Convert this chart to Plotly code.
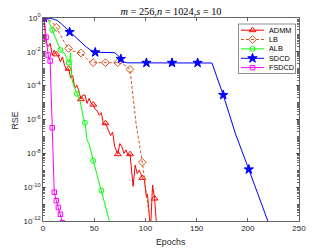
import plotly.graph_objects as go

# ---------------- data (values are log10(RSE)) ----------------
admm_epochs = [1, 3, 5, 7, 9, 11, 13, 15, 17, 19, 21, 23, 25, 27, 29, 31, 33, 35, 37, 39,
               41, 43, 45, 47, 49, 51, 53, 55, 57, 59, 61, 63, 65, 66, 68, 70, 73, 75, 77, 79,
               81, 83, 85, 86, 88, 90, 92, 94, 97, 99, 101, 102, 104, 105, 107, 109, 111]
admm_log = [0, -1.5, -1.7, -1.5, -2.2, -1.9, -2.15, -2.25, -2.6, -2.3,
            -2.8, -3.05, -3.0, -3.55, -3.4, -4.15, -3.96, -4.3, -4.8, -4.55,
            -4.56, -5.05, -4.75, -5.05, -5.12, -5.4, -5.5, -5.75, -5.6, -6.3,
            -6.22, -6.5, -6.8, -6.95, -6.75, -7.6, -8.05, -7.42, -7.6, -8.0,
            -7.8, -8.1, -8.05, -8.6, -9.95, -8.7, -9.2, -9.0, -9.45, -9.6,
            -10.6, -10.4, -11.7, -12.5, -9.88, -10.67, -12.4]
admm_marks = [1, 13, 25, 37, 49, 61, 73, 85, 97, 109]

lb_epochs = [1, 5, 9, 13, 17, 21, 25, 29, 33, 37, 41, 45, 49, 61, 73, 79, 85, 88, 91, 94, 97, 101, 105]
lb_log = [0, -0.08, -0.25, -0.55, -1.0, -1.45, -1.8, -1.95, -2.0, -2.07, -2.3, -2.55,
          -2.64, -2.64, -2.64, -2.75, -3.04, -4.7, -6.3, -7.4, -8.52, -10.4, -12.2]
lb_marks = [1, 13, 25, 37, 49, 61, 73, 85, 97]

alb_epochs = [1, 3, 5, 7, 9, 11, 13, 15, 17, 19, 21, 23, 25, 26, 27, 28, 29, 31, 33, 36,
              38, 39, 41, 42, 43, 45, 47, 49, 52, 55, 57, 60, 62, 64, 66]
alb_log = [0, -0.02, -0.1, -0.4, -0.71, -1.0, -1.3, -1.6, -1.89, -2.0,
           -2.1, -2.35, -2.64, -2.6, -2.05, -3.5, -3.8, -4.15, -4.48, -4.85,
           -5.44, -5.8, -6.19, -6.8, -7.2, -7.45, -7.95, -8.44, -9.2, -9.8,
           -10.2, -10.9, -11.26, -11.8, -12.3]
alb_marks = [1, 9, 17, 25, 33, 41, 49, 57]

sdcd_epochs = [1, 4, 7, 11, 14, 18, 22, 26, 30, 34, 38, 42, 46, 49, 51, 56, 61, 66, 70, 73,
               76, 79, 82, 101, 126, 151, 165, 176, 188, 201, 214, 222]
sdcd_log = [0, 0, -0.02, -0.08, -0.15, -0.35, -0.58, -0.83, -1.05, -1.25,
            -1.48, -1.7, -1.88, -2.0, -2.03, -2.03, -2.03, -2.03, -2.05, -2.2,
            -2.42, -2.6, -2.65, -2.65, -2.65, -2.65, -2.66, -4.55, -6.85, -8.95,
            -11.1, -12.4]
sdcd_marks = [1, 26, 51, 76, 101, 126, 151, 176, 201]

fsdcd_epochs = [1, 3, 5, 7, 9, 11, 13, 15, 17, 19]
fsdcd_log = [0, -1.14, -2.19, -2.54, -6.49, -10.3, -10.8, -11.2, -11.6, -12.1]
fsdcd_marks = [1, 3, 5, 7, 9, 11, 13, 15, 17, 19]

names = ["ADMM", "LB", "ALB", "SDCD", "FSDCD"]
x_ticks = [0, 50, 100, 150, 200, 250]
y_tick_exps = [0, -2, -4, -6, -8, -10, -12]

# ---------------- styles ----------------
styles = {
    "ADMM": dict(color="#FF0000", dash="solid", symbol="triangle-up-open", size=6),
    "LB": dict(color="#D95319", dash="3px,2px", symbol="diamond-open", size=6),
    "ALB": dict(color="#00FF00", dash="solid", symbol="circle-open", size=5),
    "SDCD": dict(color="#0000FF", dash="solid", symbol="star", size=7),
    "FSDCD": dict(color="#FF00FF", dash="solid", symbol="square-open", size=4.5),
}
series = {
    "ADMM": (admm_epochs, admm_log, admm_marks),
    "LB": (lb_epochs, lb_log, lb_marks),
    "ALB": (alb_epochs, alb_log, alb_marks),
    "SDCD": (sdcd_epochs, sdcd_log, sdcd_marks),
    "FSDCD": (fsdcd_epochs, fsdcd_log, fsdcd_marks),
}

AX = "#404040"
W, H = 332, 249
ML, MR, MT, MB = 43, 33, 18, 28
PW, PH = W - ML - MR, H - MT - MB

fig = go.Figure()
for nm in names:
    xs, ls, mk = series[nm]
    st = styles[nm]
    ys = [10 ** v for v in ls]
    fig.add_trace(go.Scatter(x=xs, y=ys, mode="lines",
                             line=dict(color=st["color"], width=1, dash=st["dash"]),
                             showlegend=False, hoverinfo="skip"))
    mx = [x for x in xs if x in mk]
    my = [10 ** ls[xs.index(x)] for x in mx]
    fig.add_trace(go.Scatter(x=mx, y=my, mode="markers",
                             marker=dict(color=st["color"], symbol=st["symbol"], size=st["size"],
                                         line=dict(color=st["color"], width=1)),
                             showlegend=False, hoverinfo="skip"))

# ---------------- manual legend (pixel units relative to plot area) ----------------
box = dict(x0=195.5, x1=252.5, y0=6, y1=55.5)
rows = [12.2, 21.5, 30.9, 40.3, 49.6]
lx0, lx1, lmx, ltx = 198, 221, 209.5, 224

fig.add_shape(type="rect", xref="x2", yref="y2", x0=box["x0"], x1=box["x1"],
              y0=box["y0"], y1=box["y1"], line=dict(color=AX, width=0.6),
              fillcolor="white", layer="below")
for nm, ry in zip(names, rows):
    st = styles[nm]
    fig.add_trace(go.Scatter(x=[lx0, lx1], y=[ry, ry], xaxis="x2", yaxis="y2", mode="lines",
                             line=dict(color=st["color"], width=1, dash=st["dash"]),
                             showlegend=False, hoverinfo="skip"))
    fig.add_trace(go.Scatter(x=[lmx], y=[ry], xaxis="x2", yaxis="y2", mode="markers",
                             marker=dict(color=st["color"], symbol=st["symbol"], size=st["size"],
                                         line=dict(color=st["color"], width=1)),
                             showlegend=False, hoverinfo="skip"))
    fig.add_annotation(x=ltx, y=ry, xref="x2", yref="y2", text=nm, showarrow=False,
                       xanchor="left", yanchor="middle",
                       font=dict(family="Liberation Sans, Arial", size=7.3, color="#000000"))

axis_common = dict(showline=True, linecolor=AX, linewidth=0.8, mirror="ticks",
                   ticks="inside", ticklen=3, tickcolor=AX, tickwidth=0.8,
                   showgrid=False, zeroline=False, automargin=False,
                   tickfont=dict(family="Liberation Sans, Arial", size=8, color="#262626"))

fig.update_layout(
    width=W, height=H,
    margin=dict(l=ML, r=MR, t=MT, b=MB, pad=0, autoexpand=False),
    paper_bgcolor="white", plot_bgcolor="white",
    showlegend=False,
    title=dict(text="<i>m</i> = 256,<i>n</i> = 1024,<i>s</i> = 10",
               x=0.5, xref="paper", xanchor="center",
               y=1 - 11.5 / H, yref="container", yanchor="middle",
               font=dict(family="Liberation Serif, Times New Roman", size=10.3, color="#000000")),
    xaxis=dict(range=[0, 250], tickvals=x_ticks, ticktext=[str(v) for v in x_ticks],
               **axis_common),
    yaxis=dict(type="log", range=[-12, 0],
               tickvals=[10 ** e for e in y_tick_exps],
               ticktext=["10<sup>%d</sup>" % e for e in y_tick_exps],
               minor=dict(ticks="inside", ticklen=1.6, tickcolor=AX, dtick="D1", showgrid=False),
               **axis_common),
    xaxis2=dict(range=[0, PW], overlaying="x", anchor="y2", visible=False, fixedrange=True),
    yaxis2=dict(range=[PH, 0], overlaying="y", anchor="x2", visible=False, fixedrange=True),
)

fig.add_annotation(text="Epochs", x=0.5, y=-(241.7 - (H - MB)) / PH,
                   xref="paper", yref="paper", showarrow=False, xanchor="center", yanchor="middle",
                   font=dict(family="Liberation Sans, Arial", size=8.8, color="#262626"))
fig.add_annotation(text="RSE", x=-(ML - 14.5) / PW, y=((H - MB) - 121) / PH,
                   xref="paper", yref="paper", showarrow=False, textangle=-90,
                   xanchor="center", yanchor="middle",
                   font=dict(family="Liberation Sans, Arial", size=8.8, color="#262626"))

fig.write_html("out.html", config={"displayModeBar": False, "staticPlot": True},
               post_script="document.body.style.margin='0px';")
